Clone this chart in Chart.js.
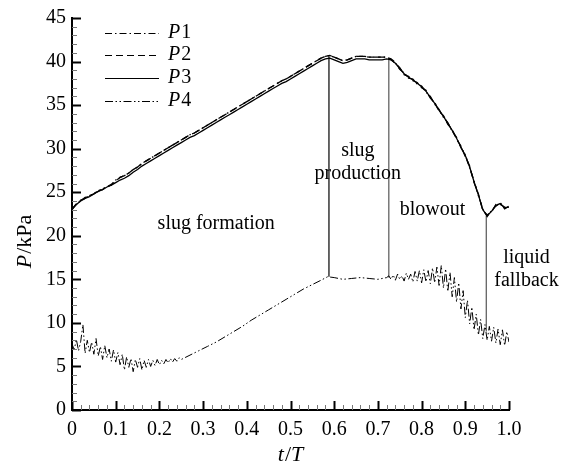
<!DOCTYPE html>
<html><head><meta charset="utf-8">
<script src="https://cdn.jsdelivr.net/npm/chart.js@4.4.0/dist/chart.umd.min.js"></script>
<style>html,body{margin:0;padding:0;background:#fff;}canvas{display:block;}</style>
</head><body>
<canvas id="c" width="566" height="473"></canvas>
<script>
// ---------- DATA ----------
const seriesNames = ['P1', 'P2', 'P3', 'P4'];

const tUpper = [0.00,0.01,0.02,0.03,0.04,0.05,0.06,0.07,0.08,0.09,
 0.10,0.11,0.12,0.13,0.14,0.15,0.16,0.17,0.18,0.19,
 0.20,0.21,0.22,0.23,0.24,0.25,0.26,0.27,0.28,0.29,
 0.30,0.31,0.32,0.33,0.34,0.35,0.36,0.37,0.38,0.39,
 0.40,0.41,0.42,0.43,0.44,0.45,0.46,0.47,0.48,0.49,
 0.50,0.51,0.52,0.53,0.54,0.55,0.56,0.57,0.58,0.59,
 0.60,0.61,0.62,0.63,0.64,0.65,0.66,0.67,0.68,0.69,
 0.70,0.71,0.72,0.73,0.74,0.75,0.76,0.77,0.78,0.79,
 0.80,0.81,0.82,0.83,0.84,0.85,0.86,0.87,0.88,0.89,
 0.90,0.91,0.92,0.93,0.94,0.95,0.96,0.97,0.98,0.99,1.00];

const p1 = [23.0,23.7,24.0,24.4,24.5,24.9,25.1,25.4,25.6,25.9,
 26.4,26.7,26.9,27.2,27.6,27.9,28.3,28.6,28.9,29.2,
 29.5,29.8,30.1,30.4,30.7,31.0,31.3,31.6,31.8,32.1,
 32.4,32.7,33.0,33.3,33.6,33.9,34.2,34.5,34.8,35.1,
 35.4,35.7,36.0,36.3,36.6,36.9,37.2,37.5,37.8,38.0,
 38.3,38.6,38.9,39.2,39.5,39.8,40.1,40.4,40.6,40.7,
 40.5,40.3,40.1,40.2,40.4,40.6,40.6,40.6,40.5,40.5,
 40.5,40.5,40.5,40.3,39.9,39.1,38.7,38.1,38.0,37.4,
 37.2,36.5,36.0,35.1,34.5,33.6,33.0,32.0,31.3,30.1,
 29.3,27.8,26.3,24.6,23.1,22.2,22.9,23.4,23.8,23.1,23.4];

const p2 = [23.1,23.6,24.1,24.3,24.6,24.8,25.2,25.3,25.7,25.8,
 26.3,26.7,26.9,27.2,27.6,27.9,28.3,28.6,28.9,29.2,
 29.5,29.8,30.1,30.4,30.7,31.0,31.3,31.6,31.8,32.1,
 32.4,32.7,33.0,33.3,33.6,33.9,34.2,34.5,34.8,35.1,
 35.4,35.7,36.0,36.3,36.6,36.9,37.2,37.5,37.8,38.0,
 38.3,38.6,38.9,39.2,39.5,39.8,40.1,40.4,40.6,40.7,
 40.5,40.3,40.1,40.2,40.4,40.6,40.6,40.6,40.5,40.5,
 40.5,40.5,40.5,40.2,39.8,39.3,38.5,38.3,37.8,37.6,
 37.0,36.7,35.8,35.3,34.3,33.8,32.8,32.2,31.1,30.3,
 29.1,28.0,26.1,24.8,22.9,22.4,22.7,23.6,23.6,23.3,23.2];

const p3 = [23.0,23.6,24.0,24.3,24.5,24.8,25.1,25.3,25.6,25.8,
 26.1,26.4,26.6,26.9,27.3,27.6,28.0,28.3,28.6,28.9,
 29.2,29.5,29.8,30.1,30.4,30.7,31.0,31.3,31.5,31.8,
 32.1,32.4,32.7,33.0,33.3,33.6,33.9,34.2,34.5,34.8,
 35.1,35.4,35.7,36.0,36.3,36.6,36.9,37.2,37.5,37.7,
 38.0,38.3,38.6,38.9,39.2,39.5,39.8,40.1,40.3,40.4,
 40.2,40.0,39.8,39.9,40.1,40.3,40.3,40.3,40.2,40.2,
 40.2,40.2,40.3,40.2,39.8,39.2,38.6,38.2,37.9,37.5,
 37.1,36.6,35.9,35.2,34.4,33.7,32.9,32.1,31.2,30.2,
 29.2,27.9,26.2,24.7,23.0,22.3,22.8,23.5,23.7,23.2,23.3];

const tLower = [0.000,0.005,0.010,0.015,0.020,0.025,0.030,0.035,0.040,0.045,
 0.050,0.055,0.060,0.065,0.070,0.075,0.080,0.085,0.090,0.095,
 0.100,0.105,0.110,0.115,0.120,0.125,0.130,0.135,0.140,0.145,
 0.150,0.155,0.160,0.165,0.170,0.175,0.180,0.185,0.190,0.195,
 0.200,0.205,0.210,0.215,0.220,0.225,0.230,0.235,0.240,0.245,0.250,
 0.27,0.29,0.31,0.33,0.35,0.37,0.39,0.41,0.43,0.45,0.47,0.49,0.51,0.53,0.55,0.57,
 0.585,0.60,0.62,0.64,0.66,0.68,0.70,0.72,
 0.725,0.730,0.735,0.740,0.745,0.750,0.755,0.760,0.765,0.770,
 0.775,0.780,0.785,0.790,0.795,0.800,0.805,0.810,0.815,0.820,
 0.825,0.830,0.835,0.840,0.845,0.850,0.855,0.860,0.865,0.870,
 0.875,0.880,0.885,0.890,0.895,0.900,0.905,0.910,0.915,0.920,
 0.925,0.930,0.935,0.940,0.945,0.950,0.955,0.960,0.965,0.970,
 0.975,0.980,0.985,0.990,0.995,1.000];

const p4 = [7.6,6.9,8.1,6.8,7.9,9.8,6.5,8.0,6.6,7.8,
 6.4,8.2,6.2,7.3,5.8,7.4,6.0,7.0,5.6,6.9,
 5.5,6.6,5.2,6.4,4.6,6.1,4.9,5.9,4.4,5.8,
 4.9,5.9,4.6,5.7,4.9,5.8,5.0,5.7,5.1,5.8,
 5.2,5.7,5.3,5.8,5.4,5.9,5.5,5.9,5.6,6.0,5.8,
 6.3,6.8,7.3,7.8,8.4,9.0,9.6,10.3,10.9,11.5,12.1,12.7,13.3,13.9,14.4,14.9,
 15.3,15.2,15.0,15.1,15.2,15.1,15.0,15.2,
 15.4,15.0,15.5,14.9,15.6,15.0,15.4,14.8,15.7,15.0,
 15.6,14.7,15.9,14.8,16.0,14.6,16.1,14.7,16.0,14.5,
 16.3,14.6,16.4,14.3,16.6,14.0,16.2,13.6,15.8,13.0,
 15.2,12.4,14.6,11.6,13.7,10.6,12.6,9.9,11.8,9.2,
 11.0,8.6,10.4,8.2,9.8,8.0,9.6,7.9,9.5,7.7,
 9.3,7.5,9.2,7.4,9.0,7.8];

// phase boundary markers (t, upper P, lower P)
const markerT = [0.588, 0.725, 0.948];
const markerTop = [40.6, 40.4, 22.3];
const markerBottom = [15.3, 15.2, 9.0];

const xTicks = [0,0.1,0.2,0.3,0.4,0.5,0.6,0.7,0.8,0.9,1.0];
const xTickLabels = ['0','0.1','0.2','0.3','0.4','0.5','0.6','0.7','0.8','0.9','1.0'];
const yTicks = [0,5,10,15,20,25,30,35,40,45];
const yTickLabels = ['0','5','10','15','20','25','30','35','40','45'];

// ---------- CHART ----------
const SERIF = '"Liberation Serif", "DejaVu Serif", serif';
const toXY = (ts, ps) => ts.map((t, i) => ({x: t, y: ps[i]}));

const dashes = [[7,3,1.5,3], [7,4], [], [8,2.5,1.5,2.5,1.5,2.5]];
const widths = [1.3, 1.3, 1.3, 1];
const seriesValues = [p1, p2, p3, p4];
const seriesT = [tUpper, tUpper, tUpper, tLower];

const datasets = seriesNames.map((n, i) => ({
  label: n,
  data: toXY(seriesT[i], seriesValues[i]),
  borderColor: '#000',
  borderWidth: widths[i],
  borderDash: dashes[i],
  pointRadius: 0,
  tension: 0,
  fill: false
}));

const markerColors = ['#000', '#555', '#555'];
markerT.forEach((t, i) => {
  datasets.push({
    label: '_marker' + i,
    data: [{x: t, y: markerBottom[i]}, {x: t, y: markerTop[i]}],
    borderColor: markerColors[i],
    borderWidth: 1.2,
    pointRadius: 0,
    fill: false
  });
});

const decor = {
  id: 'decor',
  afterDraw(chart) {
    const ctx = chart.ctx;
    const xs = chart.scales.x, ys = chart.scales.y;
    const x0 = xs.getPixelForValue(0), yb = ys.getPixelForValue(0);
    ctx.save();
    // inward ticks
    for (let k = 0; k <= 50; k++) {
      const v = k / 50;
      const px = Math.round(xs.getPixelForValue(v)) + 0.5;
      const major = k % 5 === 0;
      ctx.lineWidth = major ? 2 : 1;
      ctx.strokeStyle = major ? '#000' : '#777';
      ctx.beginPath(); ctx.moveTo(px, yb); ctx.lineTo(px, yb - (major ? 9 : 5)); ctx.stroke();
    }
    for (let k = 0; k <= 45; k++) {
      const py = Math.round(ys.getPixelForValue(k)) + 0.5;
      const major = k % 5 === 0;
      ctx.lineWidth = major ? 2 : 1;
      ctx.strokeStyle = major ? '#000' : '#777';
      ctx.beginPath(); ctx.moveTo(x0, py); ctx.lineTo(x0 + (major ? 9 : 5), py); ctx.stroke();
    }
    // legend
    ctx.fillStyle = '#000';
    ctx.strokeStyle = '#000';
    ctx.lineWidth = 1;
    const rows = [33, 55, 78, 101];
    seriesNames.forEach((n, i) => {
      ctx.setLineDash(chart.data.datasets[i].borderDash);
      ctx.beginPath(); ctx.moveTo(105, rows[i] + 0.5); ctx.lineTo(159, rows[i] + 0.5); ctx.stroke();
      ctx.setLineDash([]);
      ctx.textBaseline = 'middle'; ctx.textAlign = 'left';
      ctx.font = 'italic 20px ' + SERIF;
      ctx.fillText(n.charAt(0), 168, rows[i]);
      const w = ctx.measureText(n.charAt(0)).width;
      ctx.font = '20px ' + SERIF;
      ctx.fillText(n.slice(1), 168 + w + 1, rows[i]);
    });
    // annotations
    ctx.font = '20px ' + SERIF;
    ctx.textAlign = 'center'; ctx.textBaseline = 'middle';
    const notes = [
      {lines: ['slug formation'], t: 0.33, p: 21.4},
      {lines: ['slug', 'production'], t: 0.654, p: 29.8},
      {lines: ['blowout'], t: 0.825, p: 23.0},
      {lines: ['liquid', 'fallback'], t: 1.04, p: 17.5}
    ];
    notes.forEach(nt => {
      const px = xs.getPixelForValue(nt.t);
      const py = ys.getPixelForValue(nt.p);
      nt.lines.forEach((l, j) => ctx.fillText(l, px, py + j * 23));
    });
    // axis titles
    ctx.font = 'italic 22px ' + SERIF;
    ctx.textAlign = 'left'; ctx.textBaseline = 'middle';
    const tw1 = ctx.measureText('t').width;
    ctx.font = '22px ' + SERIF;
    const tw2 = ctx.measureText('/').width;
    ctx.font = 'italic 22px ' + SERIF;
    const tw3 = ctx.measureText('T').width;
    const sx = 290 - (tw1 + tw2 + tw3) / 2;
    const sy = 455;
    ctx.fillText('t', sx, sy);
    ctx.font = '22px ' + SERIF; ctx.fillText('/', sx + tw1 + 1, sy);
    ctx.font = 'italic 22px ' + SERIF; ctx.fillText('T', sx + tw1 + tw2 + 1, sy);
    // y title rotated
    ctx.save();
    ctx.translate(25, 242);
    ctx.rotate(-Math.PI / 2);
    ctx.font = 'italic 22px ' + SERIF;
    const pw = ctx.measureText('P').width;
    ctx.font = '22px ' + SERIF;
    const rw = ctx.measureText('/kPa').width;
    const rx = -(pw + rw) / 2;
    ctx.font = 'italic 22px ' + SERIF; ctx.fillText('P', rx, 0);
    ctx.font = '22px ' + SERIF; ctx.fillText('/kPa', rx + pw + 1, 0);
    ctx.restore();
    ctx.restore();
  }
};

new Chart(document.getElementById('c'), {
  type: 'line',
  data: {datasets},
  options: {
    responsive: false,
    animation: false,
    events: [],
    layout: {padding: {top: 15, right: 57, left: 0, bottom: 0}},
    plugins: {legend: {display: false}, tooltip: {enabled: false}},
    scales: {
      x: {
        type: 'linear', min: 0, max: 1,
        afterBuildTicks: s => { s.ticks = xTicks.map(v => ({value: v})); },
        afterFit: s => { s.height = 63; },
        grid: {display: true, drawOnChartArea: false, drawTicks: false},
        border: {display: true, color: '#000', width: 2},
        ticks: {
          padding: 8, color: '#000', maxRotation: 0, autoSkip: false,
          font: {family: SERIF, size: 20},
          callback: (v, i) => xTickLabels[i]
        }
      },
      y: {
        type: 'linear', min: 0, max: 45,
        afterBuildTicks: s => { s.ticks = yTicks.map(v => ({value: v})); },
        afterFit: s => { s.width = 72; },
        grid: {display: true, drawOnChartArea: false, drawTicks: false},
        border: {display: true, color: '#000', width: 2},
        ticks: {
          padding: 6, color: '#000', autoSkip: false,
          font: {family: SERIF, size: 20},
          callback: (v, i) => yTickLabels[i]
        }
      }
    }
  },
  plugins: [decor]
});
</script>
</body></html>
